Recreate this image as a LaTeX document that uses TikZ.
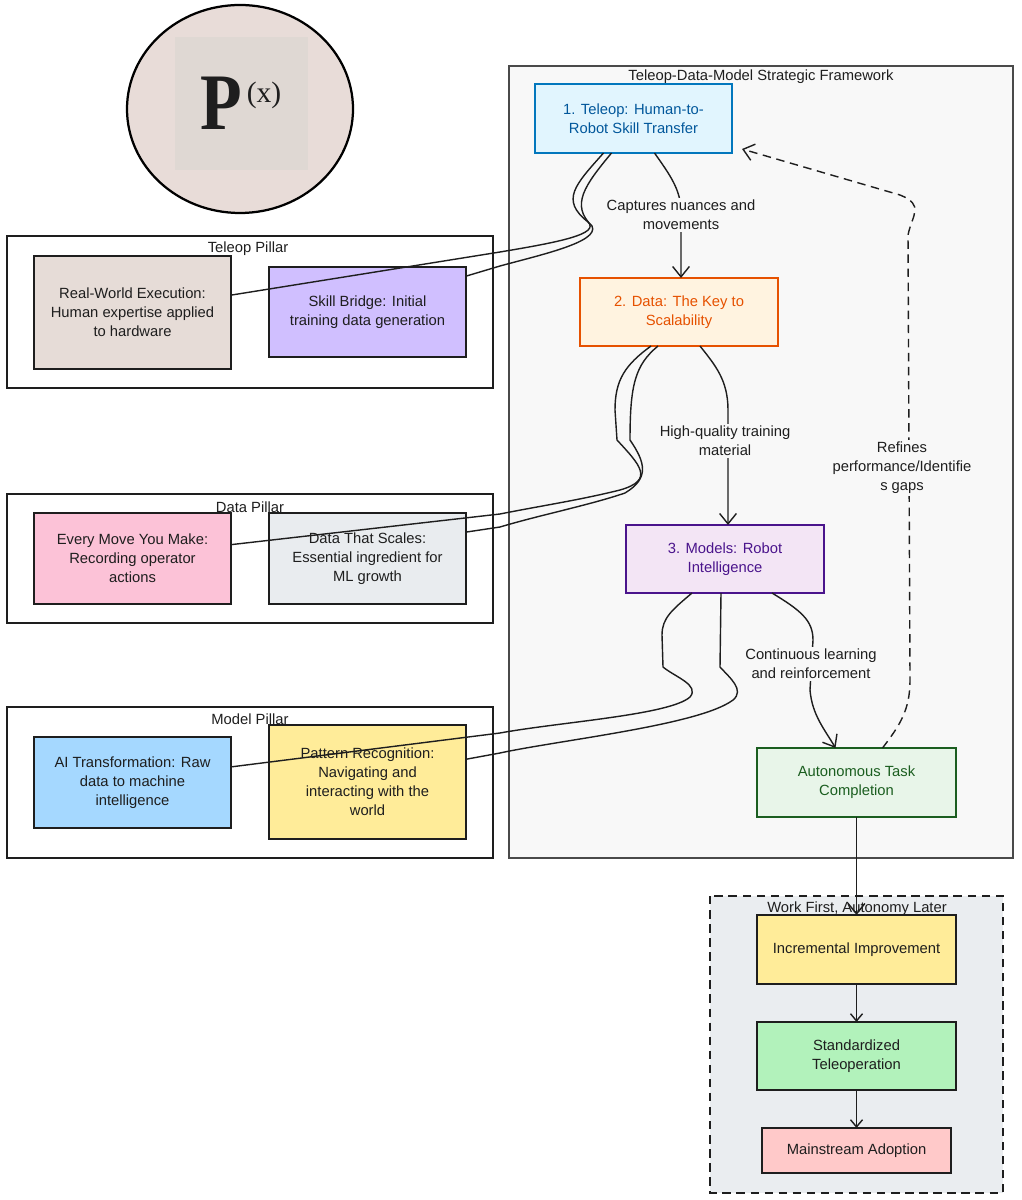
\documentclass[tikz,border=0pt]{standalone}
\usepackage{fontspec}
\setmainfont{Liberation Sans}
\newfontfamily\logofont{Liberation Serif}
\usetikzlibrary{calc}
\usetikzlibrary{arrows.meta}

\definecolor{ink}{HTML}{1E1E1E}
\definecolor{framebg}{HTML}{F8F8F8}
\definecolor{frameline}{HTML}{4A4A4A}
\definecolor{wfbg}{HTML}{EAEDF0}
\definecolor{logobg}{HTML}{E8DCD8}
\definecolor{logosq}{HTML}{DFD8D3}
\definecolor{telfill}{HTML}{E1F5FE}
\definecolor{telline}{HTML}{0277BD}
\definecolor{teltext}{HTML}{01579B}
\definecolor{datfill}{HTML}{FFF3E0}
\definecolor{datline}{HTML}{E65100}
\definecolor{modfill}{HTML}{F3E5F5}
\definecolor{modline}{HTML}{4A148C}
\definecolor{autfill}{HTML}{E8F5E9}
\definecolor{autline}{HTML}{1B5E20}
\definecolor{brownish}{HTML}{E6DCD7}
\definecolor{lavender}{HTML}{D0BFFF}
\definecolor{pinkish}{HTML}{FCC2D7}
\definecolor{greyish}{HTML}{E9ECEF}
\definecolor{skyish}{HTML}{A5D8FF}
\definecolor{yellowish}{HTML}{FFEC99}
\definecolor{mintish}{HTML}{B2F2BB}
\definecolor{roseish}{HTML}{FFC9C9}

\begin{document}
\begin{tikzpicture}[x=0.025cm, y=-0.025cm,
  every node/.style={font=\fontsize{10.5}{13.5}\selectfont, text=ink, align=center},
  box/.style={draw=ink, line width=1.2pt, inner sep=0pt, outer sep=0pt, minimum width=4.925cm},
  stage/.style={line width=1.3pt, inner sep=0pt, outer sep=0pt, minimum width=4.95cm, minimum height=1.7cm},
  pillar/.style={draw=ink, line width=1pt},
  ttl/.style={inner sep=0pt},
  lbl/.style={fill=framebg, inner sep=1.5pt},
  link/.style={draw=ink, line width=1pt},
  arr/.style={link, -{Straight Barb[length=2.6mm, width=4.2mm]}},
  sarr/.style={link, -{Straight Barb[length=1.8mm, width=3mm]}}]
  \useasboundingbox (0,0) rectangle (1021,1200);

  % logo
  \draw [line width=1.6pt, fill=logobg] (240,109) ellipse [x radius=113, y radius=104];
  \fill [logosq] (175,37) rectangle (308,170);
  \node [inner sep=0pt, xscale=0.85, font=\logofont\bfseries\fontsize{57}{57}\selectfont] (logop) at (221,103.5) {P};
  \node [inner sep=0pt, font=\logofont\fontsize{21}{21}\selectfont] (logox) at (264,95) {(x)};

  % containers
  \draw [draw=frameline, line width=1pt, fill=framebg] (509,66) rectangle (1013,858);
  \node [ttl] (fwttl) at (761,77) {Teleop-Data-Model Strategic Framework};
  \draw [pillar] (7,236) rectangle (493,388);
  \node [ttl] (tpttl) at (248,249) {Teleop Pillar};
  \draw [pillar] (7,494) rectangle (493,623);
  \node [ttl] (dpttl) at (250,507) {Data Pillar};
  \draw [pillar] (7,707) rectangle (493,858);
  \node [ttl] (mpttl) at (250,719) {Model Pillar};
  \draw [draw=ink, line width=1pt, dash pattern=on 6pt off 4pt, fill=wfbg] (710,896) rectangle (1003,1193);
  \node [ttl] (wfttl) at (857,909) {Work First, Autonomy Later};

  % main stages
  \node [stage, draw=telline, fill=telfill, text=teltext, minimum width=4.925cm, minimum height=1.725cm] (teleop) at (633.5,118.5) {1. Teleop: Human-to-\\Robot Skill Transfer};
  \node [stage, draw=datline, fill=datfill, text=datline] (data) at (679,312) {2. Data: The Key to\\Scalability};
  \node [stage, draw=modline, fill=modfill, text=modline] (models) at (725,559) {3. Models: Robot\\Intelligence};
  \node [stage, draw=autline, fill=autfill, text=autline, minimum width=4.975cm, minimum height=1.725cm] (auto) at (856.5,782.5) {Autonomous Task\\Completion};

  % pillars
  \node [box, fill=brownish, minimum height=2.825cm] (realworld) at (132.5,312.5) {Real-World Execution:\\Human expertise applied\\to hardware};
  \node [box, fill=lavender, minimum height=2.25cm] (skill) at (367.5,312) {Skill Bridge: Initial\\training data generation};
  \node [box, fill=pinkish, minimum height=2.275cm] (everymove) at (132.5,558.5) {Every Move You Make:\\Recording operator\\actions};
  \node [box, fill=greyish, minimum height=2.275cm] (scales) at (367.5,558.5) {Data That Scales:\\Essential ingredient for\\ML growth};
  \node [box, fill=skyish, minimum height=2.275cm] (aitrans) at (132.5,782.5) {AI Transformation: Raw\\data to machine\\intelligence};
  \node [box, fill=yellowish, minimum height=2.85cm] (pattern) at (367.5,782) {Pattern Recognition:\\Navigating and\\interacting with the\\world};

  % work first
  \node [box, fill=yellowish, minimum width=4.975cm, minimum height=1.725cm] (incr) at (856.5,949.5) {Incremental Improvement};
  \node [box, fill=mintish, minimum width=4.975cm, minimum height=1.7cm] (stand) at (856.5,1056) {Standardized\\Teleoperation};
  \node [box, fill=roseish, minimum width=4.725cm, minimum height=1.125cm] (mainst) at (856.5,1150.5) {Mainstream Adoption};

  % links to pillars
  \draw [link] ($(teleop.south)+(-30,0)$) .. controls (575,185) and (560,200) .. (588,222)
    .. controls (600,234) and (560,242) .. (500,252) -- (realworld.10);
  \draw [link] ($(teleop.south)+(-22,0)$) .. controls (585,185) and (570,205) .. (592,226)
    .. controls (600,242) and (540,255) .. (500,266) -- (skill.20);
  \draw [link] ($(data.south)+(-28,0)$) .. controls (625,365) and (615,380) .. (615,410) -- (617,440)
    .. controls (640,465) and (655,480) .. (620,490) .. controls (580,500) and (540,506) .. (500,514) -- (everymove.8);
  \draw [link] ($(data.south)+(-21,0)$) .. controls (635,365) and (630,385) .. (630,440)
    .. controls (645,462) and (650,478) .. (625,493) .. controls (590,505) and (540,515) .. (500,527) -- (scales.15);
  \draw [link] ($(models.south)+(-33,0)$) .. controls (672,610) and (662,618) .. (662,635) -- (663,667)
    .. controls (675,677) and (700,685) .. (690,697) .. controls (670,715) and (560,722) .. (500,733) -- (aitrans.9);
  \draw [link] ($(models.south)+(-4,0)$) -- (720,667)
    .. controls (730,678) and (745,690) .. (733,700) .. controls (700,725) and (560,740) .. (500,753) -- (pattern.13);

  % main flow
  \draw [arr] ($(teleop.south)+(21,0)$) .. controls (670,175) and (681,190) .. (681,212) -- ($(data.north)+(2,0)$);
  \node [lbl] (lcap) at (681,215) {Captures nuances and\\movements};
  \draw [arr] ($(data.south)+(21,0)$) .. controls (715,365) and (728,380) .. (728,410) -- ($(models.north)+(3,0)$);
  \node [lbl] (lhigh) at (725,441) {High-quality training\\material};
  \draw [arr] ($(models.south)+(47,0)$) .. controls (800,610) and (813,620) .. (813,640) -- (810,690)
    .. controls (812,715) and (825,730) .. ($(auto.north)+(-21,0)$);
  \node [lbl] (lcont) at (811,664) {Continuous learning\\and reinforcement};
  \draw [arr, dash pattern=on 6pt off 4pt] ($(auto.north)+(26,0)$) .. controls (900,725) and (910,710) .. (910,680)
    -- (908,235) .. controls (912,215) and (925,205) .. (900,195) -- ($(teleop.south east)+(10,-4)$);
  \node [lbl] (lref) at (902,468) {Refines\\performance/Identifie\\s gaps};

  % work first flow
  \draw [arr] (auto.south) -- (incr.north);
  \draw [sarr] (incr.south) -- (stand.north);
  \draw [sarr] (stand.south) -- (mainst.north);
\end{tikzpicture}
\end{document}
